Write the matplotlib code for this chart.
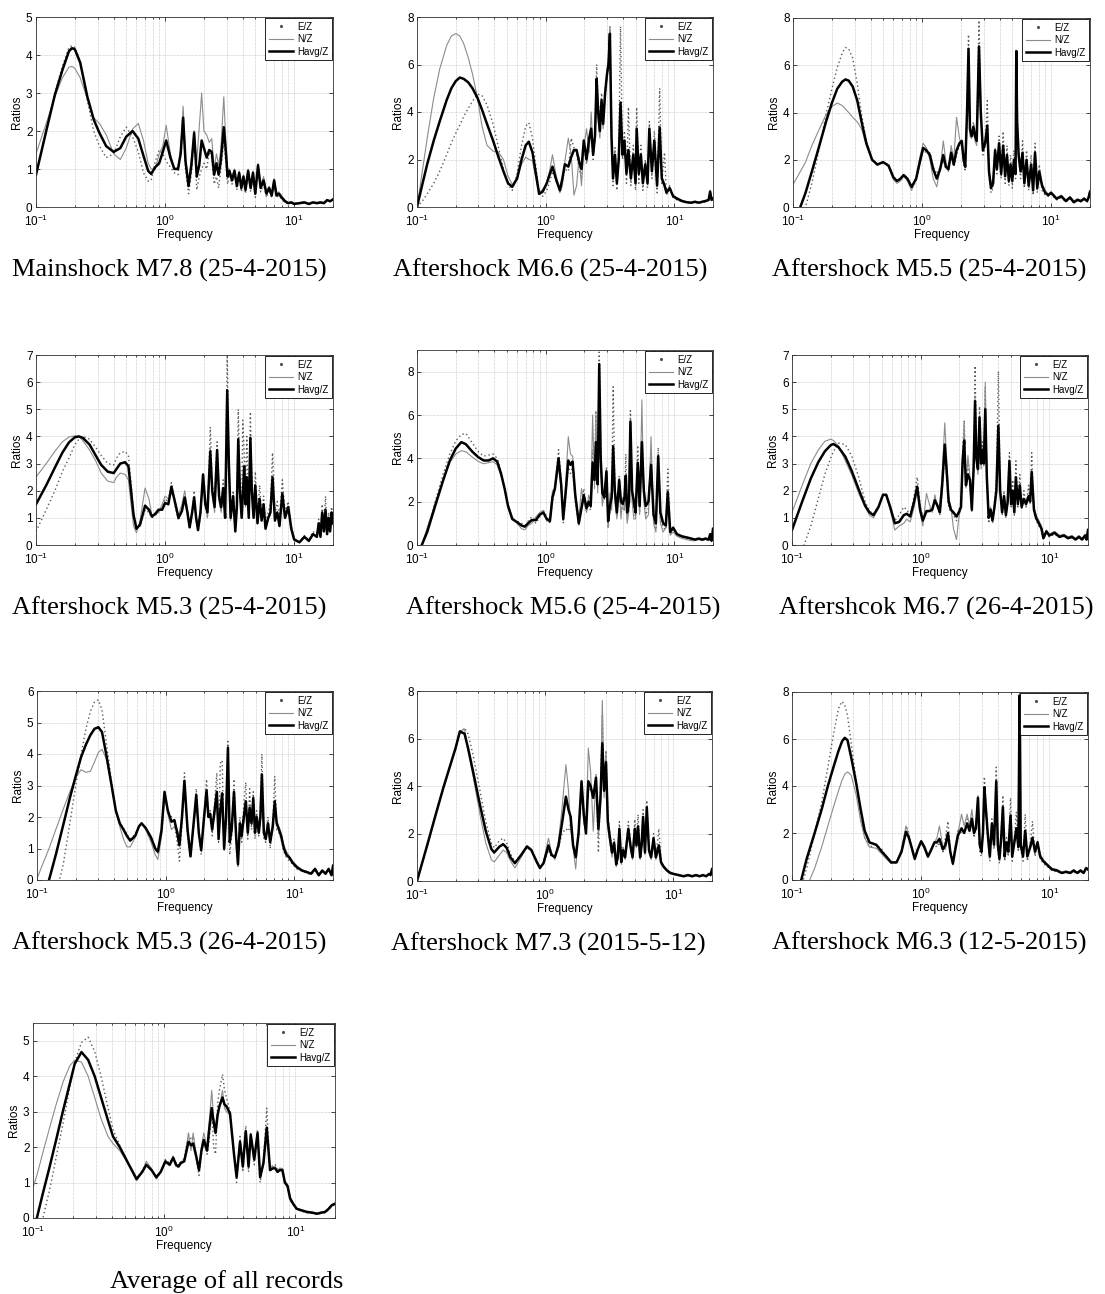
import matplotlib
matplotlib.use("Agg")
import matplotlib.pyplot as plt
from matplotlib.lines import Line2D
import numpy as np

plt.rcParams["font.family"] = ["Liberation Sans", "DejaVu Sans"]
plt.rcParams["mathtext.default"] = "regular"

W, H = 1105, 1294

# ---- Mainshock M7.8 (25-4-2015)
p1_freq = [0.10, 0.12, 0.14, 0.16, 0.18, 0.19, 0.20, 0.22, 0.25, 0.28,
           0.31, 0.35, 0.40, 0.45, 0.50, 0.56, 0.62, 0.68, 0.74, 0.78,
           0.84, 0.90, 0.96, 1.02, 1.10, 1.18, 1.26, 1.32, 1.38, 1.44,
           1.52, 1.60, 1.68, 1.76, 1.84, 1.92, 2.00, 2.10, 2.20, 2.30,
           2.40, 2.50, 2.60, 2.70, 2.85, 2.95, 3.05, 3.15, 3.30, 3.45,
           3.60, 3.75, 3.90, 4.05, 4.20, 4.40, 4.60, 4.80, 5.00, 5.25,
           5.50, 5.80, 6.10, 6.40, 6.70, 7.00, 7.30, 7.60, 8.00, 8.50,
           9.00, 9.50, 10.0, 11.0, 12.0, 13.0, 14.0, 15.0, 16.0, 17.0,
           18.0, 19.0, 20.0]
p1_hv = [0.85, 2.00, 2.95, 3.60, 4.10, 4.18, 4.15, 3.80, 2.90, 2.30,
         1.95, 1.60, 1.45, 1.55, 1.85, 2.00, 1.80, 1.35, 0.95, 0.87,
         1.05, 1.15, 1.45, 1.75, 1.30, 1.00, 1.00, 1.40, 2.35, 1.20,
         0.55, 1.10, 1.95, 0.80, 1.10, 1.75, 1.55, 1.30, 1.50, 1.45,
         0.85, 1.15, 0.85, 1.20, 2.10, 1.50, 0.80, 0.95, 0.70, 0.95,
         0.55, 0.90, 0.50, 0.80, 0.45, 0.95, 0.50, 0.90, 0.35, 1.10,
         0.50, 0.70, 0.35, 0.50, 0.30, 0.70, 0.30, 0.35, 0.25, 0.15,
         0.10, 0.12, 0.08, 0.10, 0.12, 0.08, 0.12, 0.10, 0.12, 0.10,
         0.18, 0.15, 0.20]
p1_ez = [0.85, 2.00, 3.00, 3.70, 4.20, 4.25, 4.20, 3.85, 2.80, 2.00,
         1.60, 1.30, 1.40, 1.85, 2.10, 1.85, 1.45, 0.90, 0.68, 0.70,
         1.20, 1.50, 1.40, 1.20, 1.05, 0.90, 0.85, 1.50, 2.30, 1.00,
         0.35, 0.90, 2.00, 0.45, 0.80, 1.00, 1.15, 1.00, 1.45, 1.30,
         0.60, 0.80, 0.50, 1.00, 1.70, 1.20, 0.60, 0.90, 0.60, 0.90,
         0.45, 0.85, 0.40, 0.75, 0.35, 0.90, 0.40, 0.85, 0.25, 1.05,
         0.40, 0.60, 0.25, 0.45, 0.25, 0.65, 0.25, 0.30, 0.20, 0.12,
         0.10, 0.12, 0.08, 0.10, 0.12, 0.08, 0.12, 0.10, 0.12, 0.10,
         0.18, 0.15, 0.22]
p1_nz = [1.40, 2.20, 2.90, 3.40, 3.68, 3.70, 3.65, 3.40, 2.85, 2.35,
         2.20, 1.90, 1.40, 1.25, 1.55, 2.05, 2.20, 1.75, 1.15, 1.00,
         1.00, 1.40, 1.60, 2.15, 1.40, 1.00, 1.05, 1.50, 2.65, 1.30,
         0.70, 1.30, 1.90, 1.20, 2.10, 3.00, 2.00, 1.90, 1.70, 1.80,
         1.00, 1.40, 1.10, 1.50, 2.90, 1.80, 1.00, 1.00, 0.80, 1.00,
         0.60, 0.95, 0.55, 0.85, 0.50, 1.00, 0.55, 0.95, 0.40, 1.15,
         0.60, 0.80, 0.40, 0.55, 0.35, 0.75, 0.35, 0.40, 0.30, 0.18,
         0.12, 0.14, 0.10, 0.12, 0.14, 0.10, 0.14, 0.12, 0.14, 0.12,
         0.20, 0.16, 0.22]

# ---- Aftershock M6.6 (25-4-2015)
p2_freq = [0.100, 0.110, 0.120, 0.135, 0.150, 0.170, 0.185, 0.200, 0.215, 0.230,
           0.250, 0.270, 0.295, 0.320, 0.350, 0.390, 0.430, 0.470, 0.510, 0.550,
           0.600, 0.650, 0.700, 0.740, 0.790, 0.840, 0.890, 0.950, 1.020, 1.080,
           1.130, 1.200, 1.290, 1.350, 1.410, 1.500, 1.580, 1.660, 1.740, 1.820,
           1.900, 1.980, 2.080, 2.180, 2.260, 2.340, 2.420, 2.490, 2.560, 2.640,
           2.720, 2.800, 2.900, 3.000, 3.080, 3.160, 3.250, 3.340, 3.460, 3.580,
           3.700, 3.820, 3.960, 4.100, 4.250, 4.400, 4.600, 4.800, 5.000, 5.100,
           5.300, 5.500, 5.700, 5.950, 6.200, 6.400, 6.700, 7.000, 7.350, 7.700,
           8.000, 8.400, 8.700, 9.200, 9.800, 10.50, 11.50, 12.50, 13.50, 14.50,
           15.50, 16.50, 17.50, 18.50, 19.00, 19.50, 20.00]
p2_hv = [0.00, 0.95, 1.80, 2.80, 3.60, 4.50, 5.00, 5.30, 5.45, 5.40,
         5.25, 5.00, 4.60, 4.10, 3.50, 2.80, 2.10, 1.50, 1.00, 0.85,
         1.20, 2.00, 2.60, 2.75, 2.30, 1.40, 0.55, 0.65, 1.00, 1.40,
         1.70, 1.20, 0.70, 1.20, 1.80, 1.70, 2.10, 2.40, 2.40, 1.90,
         1.60, 2.80, 2.00, 2.90, 3.30, 2.20, 3.00, 5.40, 4.00, 3.20,
         4.50, 3.50, 4.80, 5.60, 6.00, 7.30, 3.00, 1.20, 2.20, 1.00,
         2.00, 4.40, 2.20, 2.80, 1.40, 2.40, 1.20, 2.20, 1.00, 3.30,
         1.40, 2.20, 1.00, 1.80, 1.00, 3.30, 1.50, 2.80, 0.90, 3.35,
         1.20, 0.90, 0.60, 0.80, 0.45, 0.35, 0.25, 0.20, 0.18, 0.22,
         0.18, 0.22, 0.25, 0.30, 0.65, 0.30, 0.35]
p2_ez = [0.00, 0.25, 0.55, 1.00, 1.50, 2.20, 2.70, 3.10, 3.45, 3.80,
         4.15, 4.45, 4.75, 4.70, 4.30, 3.50, 2.50, 1.60, 0.95, 0.70,
         1.40, 2.60, 3.40, 3.55, 2.90, 1.70, 0.60, 0.45, 0.70, 1.10,
         1.50, 1.10, 0.80, 1.10, 1.60, 1.50, 2.90, 2.50, 2.30, 1.60,
         1.20, 2.60, 1.80, 2.80, 3.00, 2.00, 3.20, 6.00, 4.50, 3.60,
         4.80, 3.80, 5.00, 5.40, 6.20, 7.60, 3.50, 0.90, 2.50, 0.70,
         2.40, 7.60, 2.00, 3.20, 1.00, 4.20, 0.90, 2.60, 0.70, 4.20,
         1.00, 2.60, 0.70, 2.00, 0.80, 3.60, 1.20, 3.20, 0.60, 5.00,
         1.00, 2.30, 0.50, 0.90, 0.40, 0.30, 0.22, 0.18, 0.16, 0.20,
         0.16, 0.20, 0.22, 0.28, 0.60, 0.28, 0.32]
p2_nz = [0.00, 1.50, 2.90, 4.60, 5.80, 6.80, 7.20, 7.30, 7.20, 6.90,
         6.30, 5.60, 4.60, 3.40, 2.60, 2.35, 2.30, 2.00, 1.30, 0.95,
         1.20, 1.80, 2.10, 2.00, 1.95, 1.20, 0.60, 0.75, 1.00, 1.60,
         2.20, 1.40, 0.60, 0.90, 1.90, 2.90, 2.20, 0.50, 0.90, 2.10,
         0.90, 2.50, 3.30, 2.30, 4.00, 2.40, 2.80, 5.00, 3.60, 2.90,
         4.20, 3.30, 4.60, 5.80, 6.20, 7.60, 2.60, 1.40, 2.00, 1.20,
         1.80, 3.50, 2.40, 2.50, 1.60, 2.00, 1.40, 1.90, 1.20, 2.60,
         1.60, 1.90, 1.20, 1.60, 1.20, 3.00, 1.70, 2.40, 1.10, 2.80,
         1.30, 1.00, 0.70, 0.80, 0.50, 0.40, 0.28, 0.22, 0.20, 0.24,
         0.20, 0.24, 0.28, 0.32, 0.70, 0.32, 0.38]

# ---- Aftershock M5.5 (25-4-2015)
p3_freq = [0.100, 0.114, 0.125, 0.140, 0.160, 0.180, 0.200, 0.220, 0.240, 0.255,
           0.270, 0.290, 0.315, 0.340, 0.370, 0.410, 0.450, 0.500, 0.550, 0.600,
           0.640, 0.680, 0.720, 0.770, 0.830, 0.900, 0.960, 1.020, 1.080, 1.150,
           1.220, 1.300, 1.380, 1.460, 1.530, 1.600, 1.680, 1.760, 1.850, 1.950,
           2.030, 2.100, 2.160, 2.230, 2.290, 2.350, 2.420, 2.500, 2.570, 2.650,
           2.760, 2.850, 2.960, 3.080, 3.200, 3.300, 3.420, 3.550, 3.680, 3.800,
           3.950, 4.100, 4.250, 4.400, 4.550, 4.700, 4.850, 5.000, 5.150, 5.300,
           5.370, 5.450, 5.600, 5.800, 6.000, 6.200, 6.450, 6.700, 7.000, 7.250,
           7.500, 7.800, 8.100, 8.500, 9.000, 9.500, 10.00, 11.00, 12.00, 13.00,
           14.00, 15.00, 16.00, 17.00, 18.00, 19.00, 19.50, 20.00]
p3_hv = [-0.80, 0.00, 0.60, 1.50, 2.60, 3.60, 4.40, 5.00, 5.30, 5.40,
         5.35, 5.10, 4.50, 3.60, 2.70, 2.00, 1.80, 1.90, 1.75, 1.25,
         1.10, 1.20, 1.35, 1.20, 0.85, 1.20, 1.90, 2.50, 2.40, 2.20,
         1.60, 1.20, 1.60, 2.20, 1.70, 1.60, 2.30, 1.80, 2.40, 2.70,
         2.80, 2.00, 1.70, 4.00, 6.70, 3.30, 3.00, 3.40, 3.00, 2.80,
         6.80, 4.00, 2.40, 2.70, 3.45, 1.50, 0.80, 1.00, 2.40, 1.60,
         2.70, 1.40, 2.60, 1.30, 2.20, 1.10, 1.80, 1.10, 2.00, 1.40,
         6.60, 3.60, 2.20, 1.50, 2.30, 1.00, 2.00, 0.90, 1.80, 0.70,
         2.30, 0.80, 1.50, 0.90, 0.60, 0.50, 0.60, 0.35, 0.45, 0.25,
         0.40, 0.20, 0.30, 0.25, 0.35, 0.25, 0.40, 0.65]
p3_ez = [-1.20, -0.70, 0.00, 1.00, 2.50, 3.90, 5.00, 5.90, 6.50, 6.75,
         6.70, 6.30, 5.20, 3.90, 2.80, 2.00, 1.80, 1.85, 1.80, 1.30,
         1.10, 1.20, 1.40, 1.20, 0.75, 1.10, 1.80, 2.40, 2.30, 2.30,
         1.70, 1.40, 1.70, 2.00, 1.60, 1.60, 2.20, 1.70, 2.20, 2.60,
         2.70, 1.80, 1.50, 4.20, 7.30, 3.50, 3.00, 3.60, 3.20, 3.00,
         7.90, 4.20, 2.20, 2.50, 4.50, 1.30, 0.60, 0.80, 2.20, 1.40,
         3.00, 1.20, 3.20, 1.00, 2.60, 0.90, 2.20, 0.80, 2.40, 1.20,
         6.40, 4.40, 2.00, 1.20, 2.80, 0.80, 2.40, 0.70, 2.20, 0.50,
         2.70, 0.60, 1.80, 0.70, 0.50, 0.45, 0.55, 0.30, 0.40, 0.22,
         0.35, 0.18, 0.28, 0.22, 0.32, 0.22, 0.38, 0.60]
p3_nz = [0.95, 1.50, 1.90, 2.60, 3.30, 3.90, 4.25, 4.40, 4.30, 4.15,
         4.00, 3.80, 3.60, 3.30, 2.60, 2.00, 1.75, 1.90, 1.70, 1.15,
         1.00, 1.10, 1.30, 1.10, 0.70, 1.30, 2.10, 2.70, 2.50, 2.00,
         1.20, 0.85, 1.60, 2.80, 1.90, 1.50, 2.60, 2.00, 3.80, 2.90,
         2.60, 1.80, 1.90, 3.80, 6.00, 3.00, 2.90, 3.20, 2.80, 2.60,
         5.80, 3.80, 2.50, 2.80, 3.00, 1.60, 1.00, 1.20, 2.50, 1.70,
         2.50, 1.50, 2.40, 1.40, 2.00, 1.20, 1.70, 1.20, 1.90, 1.50,
         6.00, 3.20, 2.30, 1.70, 2.10, 1.20, 1.80, 1.00, 1.70, 0.80,
         2.00, 0.90, 1.30, 1.00, 0.70, 0.55, 0.65, 0.40, 0.50, 0.30,
         0.45, 0.25, 0.35, 0.28, 0.40, 0.28, 0.45, 0.70]

# ---- Aftershock M5.3 (25-4-2015)
p4_freq = [0.100, 0.120, 0.140, 0.160, 0.180, 0.200, 0.215, 0.230, 0.260, 0.290,
           0.320, 0.360, 0.400, 0.420, 0.450, 0.490, 0.520, 0.545, 0.570, 0.600,
           0.640, 0.700, 0.750, 0.790, 0.840, 0.890, 0.950, 1.000, 1.060, 1.120,
           1.190, 1.270, 1.350, 1.420, 1.490, 1.550, 1.620, 1.680, 1.740, 1.800,
           1.880, 1.970, 2.050, 2.130, 2.240, 2.320, 2.420, 2.530, 2.620, 2.720,
           2.820, 2.920, 3.030, 3.120, 3.220, 3.370, 3.500, 3.600, 3.690, 3.800,
           3.920, 4.000, 4.100, 4.200, 4.300, 4.450, 4.580, 4.700, 4.850, 5.000,
           5.200, 5.400, 5.600, 5.800, 6.000, 6.300, 6.550, 6.800, 7.100, 7.400,
           7.700, 8.100, 8.500, 9.000, 9.500, 10.00, 11.00, 12.00, 13.00, 14.00,
           15.00, 15.50, 16.00, 16.50, 17.00, 17.50, 18.00, 18.50, 19.00, 19.50,
           20.00]
p4_hv = [1.50, 2.20, 2.85, 3.40, 3.78, 3.97, 4.00, 3.95, 3.70, 3.30,
         2.95, 2.70, 2.65, 2.80, 3.00, 3.05, 2.90, 2.00, 1.10, 0.60,
         0.75, 1.45, 1.30, 1.05, 1.15, 1.30, 1.30, 1.55, 1.50, 2.15,
         1.60, 1.00, 1.25, 1.75, 1.20, 0.65, 1.20, 1.75, 1.00, 0.55,
         1.20, 2.60, 1.50, 1.20, 3.45, 2.00, 1.40, 3.50, 1.80, 1.40,
         2.10, 1.00, 5.70, 3.00, 1.00, 1.80, 0.50, 1.40, 3.90, 2.00,
         1.00, 1.80, 2.90, 1.50, 2.50, 1.00, 3.95, 2.00, 1.00, 2.20,
         0.80, 1.70, 0.90, 1.50, 0.60, 1.00, 1.20, 2.50, 0.90, 1.20,
         0.70, 1.90, 1.00, 1.40, 0.60, 0.20, 0.10, 0.30, 0.15, 0.40,
         0.30, 0.80, 0.30, 1.20, 0.50, 1.30, 0.40, 1.00, 0.50, 1.20,
         0.80]
p4_ez = [0.50, 1.30, 2.00, 2.70, 3.20, 3.70, 3.90, 4.00, 3.90, 3.60,
         3.30, 3.00, 2.95, 3.20, 3.40, 3.45, 3.30, 2.30, 1.20, 0.65,
         0.70, 1.30, 1.20, 1.00, 1.10, 1.20, 1.40, 1.70, 1.60, 2.30,
         1.50, 0.90, 1.30, 1.80, 1.10, 0.60, 1.10, 2.00, 0.90, 0.50,
         1.10, 2.50, 1.40, 1.00, 4.35, 2.20, 1.80, 3.80, 2.00, 1.40,
         2.40, 1.00, 7.00, 3.50, 1.20, 2.00, 0.60, 1.60, 5.00, 2.30,
         1.20, 4.60, 3.40, 2.00, 4.00, 1.20, 4.90, 2.40, 1.20, 2.70,
         1.00, 2.20, 1.10, 1.80, 0.80, 1.20, 1.50, 3.40, 1.10, 1.60,
         1.00, 2.40, 1.20, 1.60, 0.70, 0.25, 0.12, 0.35, 0.18, 0.50,
         0.35, 0.95, 0.35, 1.50, 0.60, 1.80, 0.50, 1.20, 0.60, 1.40,
         0.90]
p4_nz = [2.50, 3.00, 3.45, 3.80, 3.98, 4.02, 4.00, 3.85, 3.50, 3.10,
         2.65, 2.35, 2.30, 2.50, 2.65, 2.60, 2.40, 1.50, 0.70, 0.45,
         0.90, 2.10, 1.70, 1.10, 1.10, 1.20, 1.50, 1.80, 1.70, 1.90,
         1.70, 1.10, 1.50, 2.00, 1.30, 0.70, 1.20, 1.60, 1.10, 0.65,
         1.30, 2.50, 1.70, 1.00, 3.60, 1.80, 1.20, 3.20, 1.60, 1.20,
         1.90, 1.10, 4.80, 2.60, 0.90, 1.60, 0.60, 1.30, 3.40, 1.80,
         1.10, 1.70, 2.60, 1.40, 2.20, 1.10, 3.40, 1.80, 1.10, 2.00,
         0.90, 1.50, 0.90, 1.40, 0.70, 1.00, 1.10, 2.20, 0.90, 1.10,
         0.80, 1.70, 1.00, 1.30, 0.60, 0.20, 0.10, 0.30, 0.15, 0.40,
         0.30, 0.70, 0.30, 1.10, 0.50, 1.20, 0.40, 0.90, 0.50, 1.10,
         0.75]

# ---- Aftershock M5.6 (25-4-2015)
p5_freq = [0.100, 0.109, 0.120, 0.140, 0.160, 0.180, 0.200, 0.221, 0.240, 0.270,
           0.300, 0.330, 0.360, 0.390, 0.420, 0.450, 0.480, 0.510, 0.550, 0.600,
           0.650, 0.690, 0.730, 0.780, 0.840, 0.900, 0.960, 1.020, 1.080, 1.130,
           1.180, 1.260, 1.320, 1.370, 1.430, 1.500, 1.560, 1.620, 1.700, 1.810,
           1.900, 1.980, 2.080, 2.160, 2.240, 2.320, 2.400, 2.460, 2.540, 2.610,
           2.680, 2.760, 2.860, 2.970, 3.060, 3.160, 3.260, 3.350, 3.450, 3.580,
           3.730, 3.850, 3.980, 4.100, 4.200, 4.300, 4.450, 4.560, 4.700, 4.850,
           5.000, 5.200, 5.380, 5.600, 5.800, 6.000, 6.300, 6.600, 6.900, 7.200,
           7.500, 7.800, 8.200, 8.600, 8.900, 9.300, 9.800, 10.50, 11.50, 12.50,
           13.50, 14.50, 15.50, 16.50, 17.50, 18.50, 19.00, 19.50, 20.00]
p5_hv = [-0.40, 0.00, 0.60, 1.90, 3.00, 3.90, 4.45, 4.75, 4.65, 4.30,
         4.05, 3.90, 3.90, 4.00, 3.85, 3.30, 2.60, 1.80, 1.20, 1.05,
         0.90, 0.85, 1.00, 1.15, 1.15, 1.40, 1.50, 1.20, 1.10, 2.20,
         2.60, 4.00, 2.80, 1.20, 2.40, 3.90, 3.70, 3.85, 2.30, 1.00,
         1.70, 2.30, 1.70, 2.00, 1.80, 3.80, 3.00, 4.75, 2.80, 8.35,
         4.00, 2.40, 2.20, 3.40, 1.10, 1.80, 2.20, 4.55, 2.50, 1.50,
         3.00, 2.00, 1.90, 2.20, 3.20, 1.50, 2.00, 5.70, 2.50, 2.00,
         1.50, 3.80, 1.80, 4.75, 2.50, 1.80, 2.00, 3.70, 1.40, 1.00,
         4.10, 1.50, 1.00, 0.90, 2.45, 0.60, 0.80, 0.50, 0.40, 0.35,
         0.30, 0.25, 0.30, 0.25, 0.30, 0.25, 0.50, 0.20, 0.75]
p5_ez = [-0.40, 0.00, 0.70, 2.10, 3.30, 4.20, 4.80, 5.10, 5.15, 4.70,
         4.30, 4.10, 4.15, 4.20, 4.00, 3.40, 2.60, 1.80, 1.20, 1.10,
         1.00, 0.80, 1.10, 1.30, 1.00, 1.30, 1.60, 1.30, 1.00, 2.00,
         2.60, 4.40, 3.00, 1.00, 2.20, 3.60, 3.30, 3.60, 2.00, 0.90,
         1.80, 2.60, 1.60, 1.80, 1.60, 4.40, 3.20, 6.20, 3.00, 8.90,
         4.40, 2.00, 2.00, 3.60, 0.80, 1.60, 2.40, 7.30, 2.80, 1.30,
         3.20, 1.80, 1.60, 2.00, 4.20, 1.20, 1.80, 6.20, 2.30, 1.60,
         1.30, 4.60, 1.50, 4.50, 2.20, 1.40, 1.70, 4.40, 1.20, 0.80,
         4.50, 1.20, 0.80, 0.70, 3.50, 0.50, 0.70, 0.45, 0.35, 0.30,
         0.25, 0.22, 0.28, 0.22, 0.28, 0.22, 0.45, 0.18, 0.70]
p5_nz = [-0.40, 0.00, 0.80, 2.00, 3.00, 3.80, 4.20, 4.35, 4.30, 4.05,
         3.85, 3.75, 3.80, 3.85, 3.70, 3.20, 2.60, 1.90, 1.30, 1.00,
         0.75, 0.70, 0.90, 1.00, 1.30, 1.50, 1.60, 1.10, 1.30, 2.50,
         2.60, 3.60, 2.60, 1.30, 2.80, 5.00, 4.20, 4.10, 2.40, 1.20,
         2.60, 2.00, 1.50, 2.30, 2.00, 6.00, 2.60, 6.00, 2.40, 6.00,
         3.60, 1.80, 2.60, 3.20, 0.80, 2.40, 1.60, 3.60, 2.00, 1.20,
         2.80, 1.20, 2.20, 1.60, 2.60, 1.00, 1.60, 5.60, 2.00, 1.20,
         1.20, 3.20, 1.40, 6.70, 2.00, 1.20, 1.40, 5.00, 1.00, 0.60,
         3.60, 1.00, 0.60, 0.80, 2.00, 0.45, 0.60, 0.40, 0.30, 0.25,
         0.20, 0.20, 0.25, 0.20, 0.25, 0.20, 0.40, 0.15, 0.70]

# ---- Aftershcok M6.7 (26-4-2015)
p6_freq = [0.100, 0.120, 0.140, 0.160, 0.180, 0.200, 0.210, 0.230, 0.260, 0.290,
           0.330, 0.370, 0.400, 0.430, 0.470, 0.510, 0.540, 0.580, 0.630, 0.680,
           0.740, 0.780, 0.830, 0.890, 0.940, 0.990, 1.040, 1.110, 1.170, 1.230,
           1.290, 1.350, 1.410, 1.470, 1.540, 1.600, 1.650, 1.720, 1.800, 1.900,
           1.980, 2.060, 2.120, 2.180, 2.250, 2.330, 2.420, 2.500, 2.580, 2.650,
           2.710, 2.790, 2.870, 2.950, 3.020, 3.100, 3.180, 3.270, 3.380, 3.500,
           3.620, 3.750, 3.880, 4.020, 4.150, 4.300, 4.450, 4.600, 4.750, 4.900,
           5.050, 5.200, 5.350, 5.500, 5.700, 5.900, 6.100, 6.350, 6.600, 6.900,
           7.100, 7.300, 7.600, 7.900, 8.300, 8.700, 9.000, 9.500, 10.00, 11.00,
           12.00, 13.00, 14.00, 15.00, 16.00, 17.00, 18.00, 19.00, 19.50, 20.00]
p6_hv = [0.55, 1.60, 2.45, 3.05, 3.45, 3.68, 3.72, 3.60, 3.25, 2.75,
         2.05, 1.45, 1.20, 1.10, 1.40, 1.85, 1.85, 1.40, 0.80, 0.85,
         1.10, 1.15, 1.05, 1.60, 2.15, 1.30, 0.90, 1.25, 1.25, 1.30,
         1.65, 1.45, 1.20, 2.20, 3.70, 2.60, 1.60, 1.30, 1.20, 1.05,
         1.20, 1.40, 3.10, 3.85, 2.20, 2.60, 2.40, 1.30, 2.80, 5.30,
         3.20, 2.80, 4.70, 3.00, 3.50, 3.00, 5.00, 2.50, 1.00, 1.30,
         0.90, 1.40, 2.00, 4.40, 2.00, 1.20, 1.80, 1.10, 1.60, 3.10,
         1.50, 2.00, 1.20, 2.50, 1.50, 2.20, 1.40, 1.70, 1.50, 1.80,
         1.60, 2.70, 1.30, 1.00, 0.80, 0.60, 0.25, 0.50, 0.35, 0.45,
         0.30, 0.35, 0.25, 0.30, 0.20, 0.30, 0.20, 0.35, 0.20, 0.55]
p6_ez = [-1.50, -0.20, 0.70, 1.70, 2.60, 3.20, 3.45, 3.75, 3.70, 3.30,
         2.50, 1.60, 1.25, 1.15, 1.40, 1.90, 1.85, 1.35, 0.90, 1.10,
         1.40, 1.30, 1.10, 1.80, 2.50, 1.50, 1.00, 1.20, 1.30, 1.40,
         1.70, 1.50, 1.10, 2.00, 3.50, 2.40, 1.40, 1.20, 1.10, 0.90,
         1.30, 1.50, 3.40, 4.60, 2.40, 3.00, 2.20, 1.20, 3.00, 6.60,
         3.40, 3.00, 5.10, 3.20, 3.80, 3.20, 5.80, 2.40, 0.80, 1.20,
         0.80, 1.60, 2.40, 6.40, 2.20, 1.10, 2.00, 1.00, 1.80, 3.40,
         1.40, 2.40, 1.10, 3.10, 1.40, 2.60, 1.30, 2.00, 1.40, 2.20,
         1.50, 3.40, 1.20, 0.90, 0.70, 0.55, 0.22, 0.45, 0.30, 0.40,
         0.28, 0.32, 0.22, 0.28, 0.18, 0.28, 0.18, 0.32, 0.18, 0.50]
p6_nz = [1.20, 2.20, 3.00, 3.50, 3.82, 3.90, 3.85, 3.65, 3.10, 2.60,
         1.90, 1.40, 1.10, 1.00, 1.35, 1.85, 1.80, 1.30, 0.55, 0.70,
         0.80, 0.95, 0.85, 1.40, 2.00, 1.20, 0.70, 1.90, 1.50, 1.20,
         1.85, 1.40, 1.50, 2.60, 4.50, 3.00, 1.80, 1.40, 0.60, 0.20,
         1.00, 1.40, 2.80, 4.50, 2.10, 3.30, 2.50, 1.40, 2.70, 5.50,
         3.00, 2.60, 4.60, 2.80, 3.60, 2.90, 6.00, 2.60, 1.20, 1.40,
         1.00, 1.30, 2.00, 4.20, 1.90, 1.30, 1.70, 1.20, 1.50, 2.90,
         1.60, 1.90, 1.30, 2.40, 1.60, 2.00, 1.50, 1.60, 1.60, 1.70,
         1.70, 2.40, 1.40, 1.10, 0.90, 0.70, 0.30, 0.55, 0.40, 0.50,
         0.35, 0.40, 0.30, 0.35, 0.25, 0.35, 0.25, 0.40, 0.25, 0.60]

# ---- Aftershock M5.3 (26-4-2015)
p7_freq = [0.100, 0.124, 0.140, 0.160, 0.180, 0.200, 0.220, 0.240, 0.260, 0.280,
           0.300, 0.320, 0.345, 0.380, 0.410, 0.440, 0.470, 0.500, 0.530, 0.580,
           0.620, 0.650, 0.700, 0.770, 0.830, 0.870, 0.930, 0.980, 1.040, 1.110,
           1.170, 1.230, 1.280, 1.340, 1.400, 1.480, 1.560, 1.650, 1.730, 1.810,
           1.890, 1.980, 2.080, 2.150, 2.220, 2.300, 2.400, 2.500, 2.580, 2.660,
           2.750, 2.850, 2.950, 3.050, 3.150, 3.260, 3.400, 3.540, 3.650, 3.780,
           3.900, 4.050, 4.200, 4.350, 4.500, 4.650, 4.800, 4.950, 5.100, 5.300,
           5.450, 5.600, 5.800, 6.000, 6.250, 6.500, 6.800, 7.050, 7.300, 7.600,
           7.900, 8.300, 8.700, 9.200, 9.700, 10.50, 11.50, 12.50, 13.50, 14.50,
           15.50, 16.50, 17.50, 18.50, 19.00, 19.50, 20.00]
p7_hv = [-0.90, 0.00, 0.80, 1.75, 2.60, 3.30, 3.90, 4.30, 4.60, 4.80,
         4.85, 4.70, 4.00, 3.00, 2.20, 1.80, 1.60, 1.40, 1.25, 1.40,
         1.70, 1.80, 1.65, 1.35, 1.00, 0.90, 1.60, 2.80, 2.20, 1.85,
         1.90, 1.50, 1.10, 2.00, 3.15, 1.60, 0.75, 1.80, 2.70, 1.50,
         0.95, 1.90, 2.85, 2.00, 2.10, 1.60, 2.20, 2.80, 1.30, 2.20,
         2.75, 1.00, 2.00, 4.20, 1.20, 1.60, 2.80, 1.30, 0.50, 1.80,
         1.40, 2.00, 2.50, 1.50, 2.30, 1.80, 2.60, 1.50, 2.00, 1.50,
         2.00, 3.35, 1.50, 1.30, 1.80, 1.20, 1.70, 2.50, 1.80, 1.60,
         1.40, 1.00, 0.80, 0.70, 0.55, 0.40, 0.30, 0.25, 0.20, 0.35,
         0.15, 0.30, 0.20, 0.35, 0.25, 0.15, 0.45]
p7_ez = [-2.50, -1.20, -0.50, 0.50, 1.80, 3.00, 4.00, 4.80, 5.35, 5.65,
         5.72, 5.40, 4.40, 3.10, 2.20, 1.80, 1.65, 1.45, 1.30, 1.45,
         1.70, 1.80, 1.65, 1.30, 0.95, 0.85, 1.50, 2.80, 2.20, 2.00,
         1.80, 1.20, 0.60, 1.80, 3.40, 1.40, 0.70, 1.70, 2.90, 1.40,
         0.80, 1.90, 3.20, 2.00, 2.20, 1.40, 2.40, 3.40, 1.20, 3.70,
         3.80, 0.90, 2.30, 4.40, 0.80, 1.40, 3.20, 1.00, 0.40, 2.00,
         1.20, 2.40, 3.10, 1.30, 2.90, 1.60, 2.80, 1.30, 2.20, 1.40,
         2.30, 4.00, 1.30, 1.20, 2.00, 1.00, 1.80, 3.30, 1.60, 1.50,
         1.30, 0.90, 0.70, 0.60, 0.50, 0.35, 0.28, 0.22, 0.18, 0.30,
         0.14, 0.28, 0.18, 0.30, 0.22, 0.14, 0.40]
p7_nz = [0.05, 1.00, 1.60, 2.25, 2.80, 3.25, 3.50, 3.42, 3.45, 3.75,
         4.05, 4.15, 3.85, 3.00, 2.20, 1.70, 1.30, 1.05, 1.05, 1.35,
         1.70, 1.80, 1.60, 1.20, 0.80, 0.65, 1.40, 2.70, 2.10, 1.60,
         1.70, 1.60, 1.40, 2.00, 2.90, 1.70, 0.80, 1.70, 2.50, 1.50,
         1.00, 1.80, 2.60, 2.00, 2.00, 1.70, 2.00, 2.50, 1.40, 2.00,
         2.50, 1.10, 1.80, 3.90, 1.30, 1.70, 2.60, 1.40, 0.60, 1.70,
         1.50, 1.80, 2.30, 1.60, 2.10, 1.90, 2.40, 1.60, 1.90, 1.60,
         1.80, 3.00, 1.60, 1.40, 1.70, 1.30, 1.60, 2.30, 1.90, 1.70,
         1.50, 1.10, 0.90, 0.75, 0.60, 0.45, 0.32, 0.28, 0.22, 0.38,
         0.18, 0.32, 0.22, 0.38, 0.28, 0.18, 0.50]

# ---- Aftershock M7.3 (2015-5-12)
p8_freq = [0.100, 0.120, 0.140, 0.160, 0.180, 0.200, 0.216, 0.235, 0.250, 0.274,
           0.310, 0.344, 0.380, 0.400, 0.440, 0.470, 0.500, 0.535, 0.580, 0.650,
           0.720, 0.780, 0.860, 0.910, 0.970, 1.060, 1.120, 1.190, 1.270, 1.350,
           1.450, 1.520, 1.580, 1.650, 1.730, 1.820, 1.920, 2.000, 2.080, 2.170,
           2.260, 2.370, 2.490, 2.600, 2.700, 2.790, 2.880, 2.980, 3.080, 3.200,
           3.320, 3.450, 3.580, 3.680, 3.790, 3.920, 4.050, 4.200, 4.450, 4.650,
           4.800, 5.000, 5.150, 5.300, 5.500, 5.650, 5.800, 6.000, 6.200, 6.450,
           6.700, 7.000, 7.300, 7.700, 8.000, 8.400, 8.900, 9.400, 10.00, 11.00,
           12.00, 13.00, 14.00, 15.00, 16.00, 17.00, 18.00, 19.00, 19.50, 20.00]
p8_hv = [0.00, 1.50, 2.80, 3.90, 4.80, 5.60, 6.30, 6.20, 5.60, 4.60,
         3.20, 2.10, 1.35, 1.20, 1.45, 1.55, 1.40, 1.00, 0.75, 1.10,
         1.45, 1.30, 0.80, 0.55, 0.75, 1.50, 1.10, 1.00, 1.50, 2.40,
         3.55, 3.00, 2.70, 1.50, 1.00, 2.00, 4.20, 2.80, 2.00, 4.20,
         4.00, 3.50, 4.35, 2.20, 3.50, 5.80, 3.80, 5.00, 2.50, 1.80,
         1.20, 1.60, 0.70, 1.00, 2.20, 0.80, 1.30, 1.00, 2.20, 1.40,
         1.00, 2.20, 1.50, 2.30, 1.00, 1.50, 2.70, 1.20, 3.10, 1.30,
         1.00, 1.80, 1.00, 1.50, 0.80, 0.60, 0.45, 0.35, 0.30, 0.25,
         0.20, 0.25, 0.20, 0.25, 0.20, 0.25, 0.20, 0.30, 0.25, 0.50]
p8_ez = [0.00, 1.50, 2.80, 3.90, 4.80, 5.60, 6.20, 6.45, 6.20, 5.30,
         3.80, 2.50, 1.60, 1.40, 1.70, 1.80, 1.60, 1.15, 0.80, 1.05,
         1.40, 1.30, 0.85, 0.60, 0.75, 1.30, 1.00, 1.00, 1.40, 2.00,
         2.20, 2.10, 2.40, 1.60, 1.10, 2.00, 4.00, 3.00, 2.20, 4.00,
         3.80, 3.60, 4.50, 1.20, 3.80, 7.00, 4.00, 5.50, 2.80, 2.00,
         1.30, 1.80, 0.70, 1.00, 2.50, 0.80, 1.40, 1.00, 2.50, 1.50,
         1.00, 2.60, 1.60, 2.80, 1.00, 1.60, 3.00, 1.30, 3.40, 1.40,
         1.00, 2.00, 1.00, 2.20, 0.80, 0.60, 0.45, 0.35, 0.30, 0.25,
         0.20, 0.25, 0.20, 0.25, 0.20, 0.25, 0.20, 0.30, 0.25, 0.50]
p8_nz = [0.00, 1.50, 2.80, 3.90, 4.80, 5.60, 6.30, 6.40, 5.50, 4.40,
         2.80, 1.60, 0.90, 0.80, 1.10, 1.30, 1.20, 0.85, 0.55, 1.00,
         1.50, 1.35, 0.75, 0.50, 0.80, 1.80, 1.20, 0.90, 1.70, 3.00,
         4.90, 3.80, 2.20, 1.40, 0.50, 2.10, 4.20, 2.40, 2.20, 5.60,
         4.60, 2.10, 4.40, 1.80, 3.60, 7.60, 3.50, 5.40, 2.20, 1.60,
         1.00, 1.40, 0.60, 0.90, 2.00, 0.70, 1.20, 0.90, 2.00, 1.30,
         0.90, 2.00, 1.40, 2.00, 0.90, 1.40, 2.40, 1.10, 2.80, 1.20,
         0.90, 1.60, 0.90, 1.40, 0.70, 0.55, 0.40, 0.30, 0.28, 0.22,
         0.18, 0.22, 0.18, 0.22, 0.18, 0.22, 0.18, 0.28, 0.22, 0.45]

# ---- Aftershock M6.3 (12-5-2015)
p9_freq = [0.100, 0.118, 0.130, 0.150, 0.170, 0.190, 0.210, 0.230, 0.245, 0.257,
           0.270, 0.289, 0.316, 0.342, 0.367, 0.400, 0.452, 0.500, 0.540, 0.590,
           0.650, 0.710, 0.770, 0.810, 0.860, 0.900, 0.950, 1.010, 1.070, 1.140,
           1.200, 1.280, 1.340, 1.400, 1.490, 1.560, 1.630, 1.700, 1.780, 1.860,
           1.950, 2.080, 2.180, 2.300, 2.400, 2.500, 2.600, 2.690, 2.790, 2.880,
           2.970, 3.050, 3.130, 3.220, 3.320, 3.450, 3.580, 3.720, 3.870, 3.980,
           4.100, 4.230, 4.360, 4.500, 4.650, 4.800, 5.000, 5.150, 5.350, 5.550,
           5.750, 5.880, 6.000, 6.250, 6.500, 6.750, 7.100, 7.400, 7.750, 8.100,
           8.500, 9.000, 9.800, 10.50, 11.50, 12.50, 13.50, 14.50, 15.50, 16.50,
           17.50, 18.50, 19.30, 20.00]
p9_hv = [-0.70, 0.00, 0.90, 2.00, 3.00, 4.00, 4.80, 5.50, 5.90, 6.05,
         5.95, 5.20, 4.10, 3.00, 2.10, 1.60, 1.50, 1.20, 1.00, 0.75,
         0.75, 1.20, 2.05, 1.80, 1.30, 0.90, 1.30, 1.65, 1.40, 1.00,
         1.25, 1.60, 1.60, 1.75, 1.30, 1.50, 2.00, 1.20, 0.70, 1.30,
         1.90, 2.20, 2.00, 2.40, 2.10, 2.60, 2.00, 2.20, 3.50, 1.50,
         1.20, 2.00, 3.95, 3.00, 2.00, 1.00, 2.40, 1.50, 4.20, 1.50,
         0.90, 1.80, 3.10, 1.00, 1.60, 1.20, 2.75, 1.00, 1.60, 2.20,
         1.40, 7.85, 1.50, 1.00, 2.10, 1.00, 1.40, 1.80, 1.20, 1.60,
         1.00, 0.80, 0.60, 0.45, 0.40, 0.30, 0.35, 0.30, 0.40, 0.30,
         0.40, 0.30, 0.50, 0.45]
p9_ez = [-1.50, -0.30, 0.50, 2.00, 3.30, 4.80, 6.20, 7.30, 7.60, 7.45,
         7.00, 5.80, 4.20, 2.80, 1.80, 1.40, 1.50, 1.30, 1.00, 0.72,
         0.72, 1.30, 2.30, 2.00, 1.30, 0.90, 1.30, 1.65, 1.40, 1.00,
         1.30, 1.50, 1.40, 1.60, 1.20, 1.80, 2.50, 1.30, 0.65, 1.20,
         2.10, 2.00, 2.10, 2.60, 2.00, 2.80, 1.80, 2.40, 3.40, 1.20,
         1.00, 2.20, 4.40, 3.20, 1.80, 0.80, 2.60, 1.30, 4.80, 1.30,
         0.70, 2.00, 3.60, 0.80, 1.80, 1.00, 3.50, 0.80, 1.80, 2.90,
         1.20, 2.90, 1.30, 0.80, 2.80, 0.80, 1.50, 2.50, 1.00, 1.70,
         0.90, 0.70, 0.55, 0.40, 0.35, 0.28, 0.32, 0.28, 0.35, 0.28,
         0.35, 0.28, 0.45, 0.40]
p9_nz = [-2.00, -1.00, -0.30, 0.50, 1.40, 2.30, 3.10, 3.80, 4.25, 4.50,
         4.60, 4.45, 3.60, 2.50, 1.80, 1.40, 1.35, 1.10, 0.90, 0.70,
         0.75, 1.30, 2.30, 1.90, 1.20, 0.85, 1.30, 1.60, 1.30, 0.95,
         1.30, 1.60, 1.80, 2.30, 1.40, 1.30, 1.80, 1.20, 0.80, 1.50,
         2.00, 2.80, 2.30, 2.80, 2.30, 3.00, 2.20, 2.20, 3.60, 1.60,
         1.30, 1.90, 3.80, 2.80, 2.10, 1.10, 2.20, 1.60, 4.00, 1.60,
         1.00, 1.70, 2.80, 1.10, 1.50, 1.30, 2.40, 1.10, 1.50, 2.00,
         1.50, 9.00, 1.60, 1.10, 1.80, 1.10, 1.30, 1.60, 1.30, 1.50,
         1.10, 0.85, 0.65, 0.50, 0.45, 0.32, 0.38, 0.32, 0.45, 0.32,
         0.45, 0.32, 0.55, 0.50]

# ---- Average of all records
p10_freq = [0.100, 0.107, 0.119, 0.134, 0.150, 0.170, 0.191, 0.208, 0.234, 0.263,
            0.295, 0.330, 0.373, 0.407, 0.458, 0.530, 0.615, 0.680, 0.730, 0.800,
            0.870, 0.940, 1.020, 1.100, 1.170, 1.230, 1.280, 1.340, 1.420, 1.530,
            1.600, 1.660, 1.750, 1.840, 1.920, 2.000, 2.120, 2.200, 2.300, 2.380,
            2.460, 2.550, 2.630, 2.780, 2.880, 2.980, 3.170, 3.400, 3.560, 3.780,
            3.970, 4.180, 4.390, 4.560, 4.850, 5.140, 5.380, 5.700, 6.040, 6.400,
            6.700, 7.000, 7.300, 7.600, 7.950, 8.300, 8.700, 9.100, 9.600, 10.20,
            11.00, 12.20, 13.40, 14.60, 15.70, 16.80, 17.80, 18.90, 20.00]
p10_hv = [-0.35, 0.00, 0.70, 1.45, 2.20, 3.05, 3.80, 4.35, 4.68, 4.46,
          4.00, 3.40, 2.75, 2.30, 2.00, 1.55, 1.10, 1.30, 1.50, 1.35,
          1.15, 1.30, 1.60, 1.50, 1.70, 1.50, 1.45, 1.55, 1.60, 2.15,
          2.05, 2.10, 1.75, 1.35, 1.90, 2.20, 1.90, 2.50, 3.10, 2.70,
          2.40, 2.90, 3.15, 3.40, 3.20, 3.15, 2.95, 1.80, 1.15, 2.15,
          1.45, 2.45, 1.45, 2.35, 1.65, 2.40, 1.15, 1.55, 2.55, 1.35,
          1.40, 1.40, 1.30, 1.35, 1.35, 1.00, 0.90, 0.55, 0.40, 0.26,
          0.22, 0.17, 0.15, 0.12, 0.15, 0.17, 0.25, 0.36, 0.40]
p10_ez = [-1.00, -0.60, 0.00, 0.80, 1.70, 2.70, 3.70, 4.40, 4.95, 5.10,
          4.70, 4.00, 3.10, 2.50, 2.05, 1.55, 1.05, 1.35, 1.55, 1.35,
          1.10, 1.30, 1.65, 1.55, 1.75, 1.55, 1.40, 1.55, 1.70, 2.35,
          2.20, 2.30, 1.70, 1.20, 1.80, 2.20, 1.80, 2.20, 3.00, 2.00,
          1.80, 3.20, 3.60, 4.05, 3.60, 3.40, 3.00, 1.80, 1.00, 2.30,
          1.30, 2.60, 1.30, 2.40, 1.50, 2.50, 1.00, 1.60, 3.10, 1.30,
          1.50, 1.50, 1.35, 1.40, 1.40, 1.00, 0.85, 0.50, 0.38, 0.24,
          0.20, 0.15, 0.13, 0.11, 0.13, 0.15, 0.22, 0.33, 0.38]
p10_nz = [0.85, 1.20, 1.85, 2.55, 3.20, 3.85, 4.30, 4.45, 4.40, 4.00,
          3.40, 2.80, 2.30, 2.10, 1.90, 1.55, 1.05, 1.30, 1.60, 1.40,
          1.10, 1.30, 1.55, 1.50, 1.75, 1.45, 1.50, 1.60, 1.60, 2.40,
          1.90, 2.40, 1.80, 1.30, 2.00, 2.40, 2.00, 2.70, 3.60, 2.80,
          2.60, 3.00, 3.10, 3.60, 3.10, 3.00, 2.90, 1.80, 1.20, 2.10,
          1.50, 2.40, 1.50, 2.30, 1.70, 2.30, 1.20, 1.50, 2.40, 1.40,
          1.45, 1.45, 1.35, 1.40, 1.40, 1.05, 0.95, 0.60, 0.42, 0.28,
          0.24, 0.19, 0.17, 0.14, 0.17, 0.19, 0.27, 0.38, 0.43]

captions = ["Mainshock M7.8 (25-4-2015)", "Aftershock M6.6 (25-4-2015)",
            "Aftershock M5.5 (25-4-2015)", "Aftershock M5.3 (25-4-2015)",
            "Aftershock M5.6 (25-4-2015)", "Aftershcok M6.7 (26-4-2015)",
            "Aftershock M5.3 (26-4-2015)", "Aftershock M7.3 (2015-5-12)",
            "Aftershock M6.3 (12-5-2015)", "Average of all records"]
y_max = [5, 8, 8, 7, 9, 7, 6, 8, 8, 5.5]
y_step = [1, 2, 2, 1, 2, 1, 1, 2, 2, 1]

records = [
    (p1_freq, p1_ez, p1_nz, p1_hv), (p2_freq, p2_ez, p2_nz, p2_hv),
    (p3_freq, p3_ez, p3_nz, p3_hv), (p4_freq, p4_ez, p4_nz, p4_hv),
    (p5_freq, p5_ez, p5_nz, p5_hv), (p6_freq, p6_ez, p6_nz, p6_hv),
    (p7_freq, p7_ez, p7_nz, p7_hv), (p8_freq, p8_ez, p8_nz, p8_hv),
    (p9_freq, p9_ez, p9_nz, p9_hv), (p10_freq, p10_ez, p10_nz, p10_hv),
]

# axes boxes in pixels: left, top, right, bottom
boxes = [(36, 17, 333, 207), (417, 17, 713, 207), (793, 18, 1090, 207),
         (36, 355, 333, 545), (417, 350, 713, 545), (792, 355, 1088, 545),
         (37, 691, 333, 880), (417, 691, 712, 881), (792, 692, 1088, 880),
         (33, 1023, 335, 1218)]
caption_x = [169, 550, 929, 169, 563, 936, 169, 548, 929, 227]

legend_handles = [
    Line2D([], [], color="0.3", marker=".", markersize=2.5, linestyle="none"),
    Line2D([], [], color="0.55", lw=0.8),
    Line2D([], [], color="black", lw=1.8),
]


def hvsr_panel(ax, freq, ez, nz, hv, ymax, ystep):
    ax.plot(freq, ez, color="0.35", lw=1.0, ls=(0, (1, 2)))
    ax.plot(freq, nz, color="0.55", lw=0.8)
    ax.plot(freq, hv, color="black", lw=1.8)

    ax.set_xscale("log")
    ax.set_xlim(0.1, 20)
    ax.set_ylim(0, ymax)
    ax.set_yticks(np.arange(0, ymax + 0.01, ystep))

    ax.grid(True, which="both", axis="x", color="0.75", lw=0.5, ls=(0, (1, 1)))
    ax.grid(True, which="major", axis="y", color="0.75", lw=0.5, ls=(0, (1, 1)))
    ax.set_axisbelow(True)

    ax.tick_params(which="both", direction="in", top=True, right=True,
                   labelsize=8.5, width=0.5)
    ax.tick_params(axis="x", which="both", pad=5)
    ax.tick_params(axis="y", which="both", pad=2.5)
    ax.tick_params(which="major", length=3)
    ax.tick_params(which="minor", length=1.5)
    for s in ax.spines.values():
        s.set_linewidth(0.6)
        s.set_color("0.2")

    ax.set_xlabel("Frequency", fontsize=8.5, labelpad=0)
    ax.set_ylabel("Ratios", fontsize=8.5, labelpad=2)

    leg = ax.legend(legend_handles, ["E/Z", "N/Z", "Havg/Z"], loc="upper right",
                    fontsize=7, frameon=True, fancybox=False, framealpha=1,
                    edgecolor="black", borderaxespad=0.15, borderpad=0.35,
                    handlelength=2.5, handletextpad=0.4, labelspacing=0.25)
    leg.get_frame().set_linewidth(0.6)


fig = plt.figure(figsize=(W / 100, H / 100), dpi=100)

for i, (freq, ez, nz, hv) in enumerate(records):
    l, t, r, b = boxes[i]
    ax = fig.add_axes([l / W, 1 - b / H, (r - l) / W, (b - t) / H])
    hvsr_panel(ax, freq, ez, nz, hv, y_max[i], y_step[i])
    fig.text(caption_x[i] / W, 1 - (b + 70) / H, captions[i], ha="center",
             va="baseline", fontsize=19, family="Liberation Serif")

fig.savefig("out.png", dpi=100)
